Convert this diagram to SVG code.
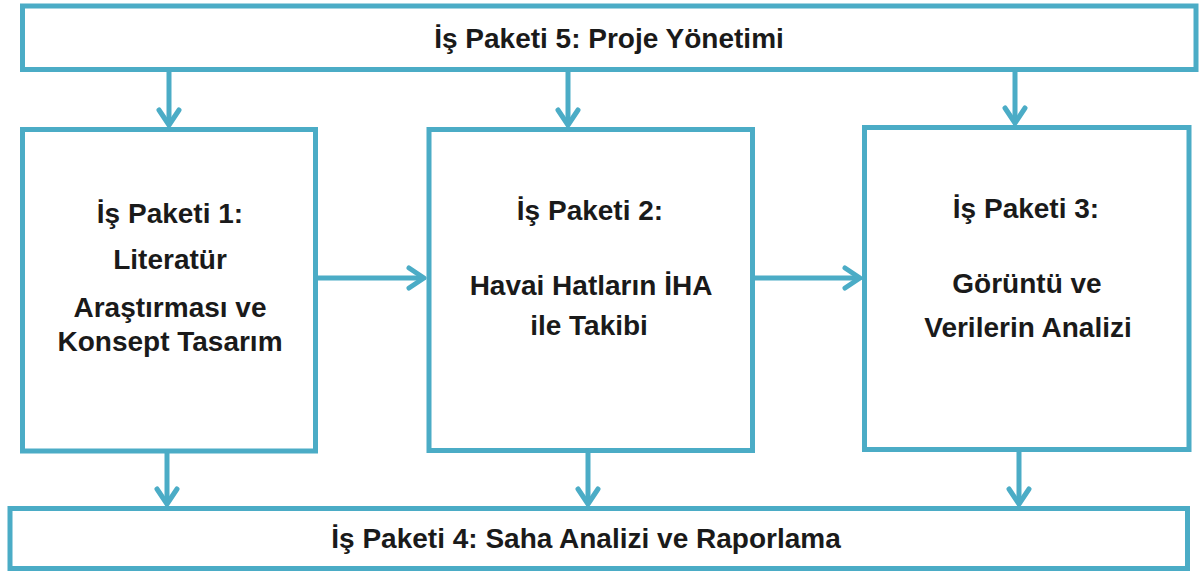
<svg xmlns="http://www.w3.org/2000/svg" width="1199" height="572" viewBox="0 0 1199 572">
<style>
.box{fill:#ffffff;stroke:#4BACC6;stroke-width:5}
.lbl{font-family:"Liberation Sans",Arial,sans-serif;font-weight:bold;font-size:28px;fill:#1a1a1a;text-anchor:middle}
.conn{fill:none;stroke:#4BACC6;stroke-width:5;marker-end:url(#chev)}
</style>
<defs>
<marker id="chev" markerUnits="userSpaceOnUse" viewBox="-20 -14 24 28" refX="0" refY="0" markerWidth="24" markerHeight="28" orient="auto">
<path d="M-15,-10 L0,0 L-15,10" fill="none" stroke="#4BACC6" stroke-width="5" stroke-linecap="round" stroke-linejoin="round"/>
</marker>
</defs>
<rect width="1199" height="572" fill="#ffffff"/>
<g id="connectors">
<path class="conn" d="M169,72 L169,125"/>
<path class="conn" d="M568,72 L568,125"/>
<path class="conn" d="M1015,72 L1015,123"/>
<path class="conn" d="M318,278 L424,278"/>
<path class="conn" d="M755,278 L860,278"/>
<path class="conn" d="M167,453 L167,504"/>
<path class="conn" d="M588,453 L588,504"/>
<path class="conn" d="M1019,452 L1019,504"/>
</g>
<g id="wp5">
<rect class="box" x="22.5" y="6" width="1173.5" height="63.5"/>
<text class="lbl" x="609" y="48">İş Paketi 5: Proje Yönetimi</text>
</g>
<g id="wp1">
<rect class="box" x="22.5" y="129.5" width="293" height="321.5"/>
<text class="lbl" x="170" y="223">İş Paketi 1:</text>
<text class="lbl" x="170" y="269">Literatür</text>
<text class="lbl" x="170" y="317">Araştırması ve</text>
<text class="lbl" x="170" y="351">Konsept Tasarım</text>
</g>
<g id="wp2">
<rect class="box" x="429" y="129.5" width="323.5" height="321"/>
<text class="lbl" x="590" y="220">İş Paketi 2:</text>
<text class="lbl" x="591" y="295">Havai Hatların İHA</text>
<text class="lbl" x="589" y="335">ile Takibi</text>
</g>
<g id="wp3">
<rect class="box" x="864.5" y="127.5" width="324.5" height="322"/>
<text class="lbl" x="1026" y="218">İş Paketi 3:</text>
<text class="lbl" x="1027" y="293">Görüntü ve</text>
<text class="lbl" x="1028" y="337">Verilerin Analizi</text>
</g>
<g id="wp4">
<rect class="box" x="10" y="508.5" width="1177.5" height="60"/>
<text class="lbl" x="586" y="548">İş Paketi 4: Saha Analizi ve Raporlama</text>
</g>
</svg>
